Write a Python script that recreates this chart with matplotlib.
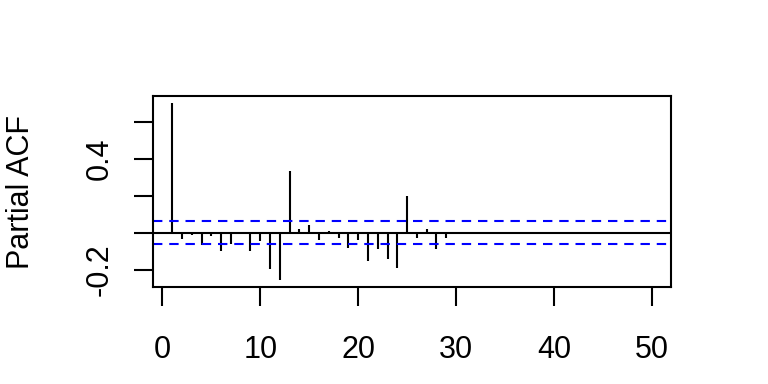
"""
Partial autocorrelation plot, R base graphics look
"""

import numpy as np
import matplotlib
matplotlib.use('Agg')
import matplotlib.pyplot as plt

plt.rcParams['font.family'] = ['Liberation Sans', 'DejaVu Sans']

# pacf values, lags 1..50
lags = np.arange(1, 51)
pacf = [0.700, -0.034, -0.010, -0.066, -0.016, -0.097, -0.061, 0.004, -0.097, -0.043,
        -0.195, -0.255, 0.333, 0.020, 0.042, -0.038, 0.008, -0.027, -0.081, -0.038,
        -0.151, -0.086, -0.141, -0.189, 0.198, -0.027, 0.020, -0.086, -0.027, 0.0,
        0.0, 0.0, 0.0, 0.0, 0.0, 0.0, 0.0, 0.0, 0.0, 0.0,
        0.0, 0.0, 0.0, 0.0, 0.0, 0.0, 0.0, 0.0, 0.0, 0.0]
ci = 0.0615

x_ticks = [0, 10, 20, 30, 40, 50]
y_ticks = [-0.2, 0.0, 0.2, 0.4, 0.6]
y_tick_labels = ['-0.2', '', '', '0.4', '']

pacf = np.array(pacf)

fig = plt.figure(figsize=(7.68, 3.84), dpi=100)
ax = fig.add_axes([153 / 768, 1 - 287 / 384, (671 - 153) / 768, (287 - 96) / 384])

lw = 1.5
ax.vlines(lags, 0, pacf, color='black', lw=lw)
ax.axhline(0, color='black', lw=lw)
for c in (ci, -ci):
    ax.axhline(c, color='#0000ff', lw=lw, ls=(0, (4.5, 3.3)))

# R style 4% axis expansion
xr = lags.max() - lags.min()
ax.set_xlim(lags.min() - 0.04 * xr, lags.max() + 0.04 * xr)
ylo = min(pacf.min(), -ci)
yhi = max(pacf.max(), ci)
yr = yhi - ylo
ax.set_ylim(ylo - 0.04 * yr, yhi + 0.04 * yr)

ax.set_xticks(x_ticks)
ax.set_yticks(y_ticks)
ax.set_yticklabels(y_tick_labels, rotation=90, va='center')
ax.tick_params(direction='out', length=13.5, width=lw, labelsize=22)
ax.tick_params(axis='x', pad=21)
ax.tick_params(axis='y', pad=14)
for s in ax.spines.values():
    s.set_linewidth(lw)

fig.text(21.5 / 768, 0.5, 'Partial ACF', rotation=90, ha='center', va='center', fontsize=22)

fig.savefig('out.png', dpi=100)
